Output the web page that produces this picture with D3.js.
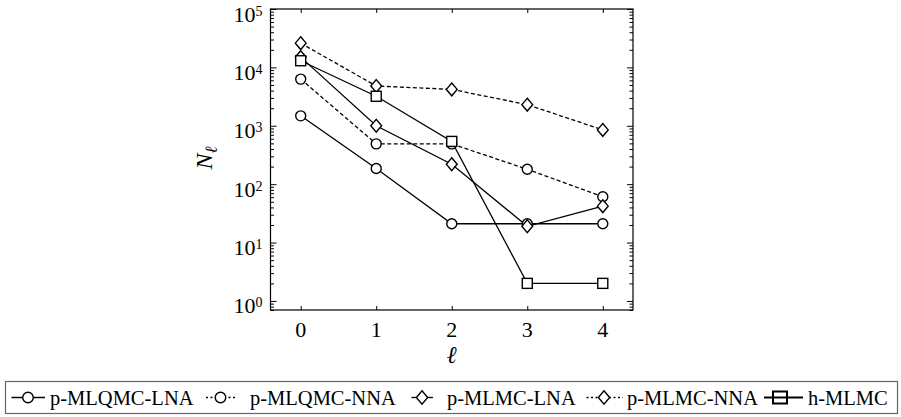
<!DOCTYPE html>
<html lang="en">
<head>
    <meta charset="UTF-8">
    <title>N_l per level</title>
    <script src="https://d3js.org/d3.v7.min.js"></script>
    <style>
        body {
            margin: 0;
            background: #ffffff;
        }
    </style>
</head>
<body>
<script>
    // levels and sample counts
    const levels = [0, 1, 2, 3, 4];
    const mlqmcLNA = [1480, 185, 21, 21, 21];
    const mlqmcNNA = [6300, 490, 490, 180, 61];
    const mlmcLNA = [15000, 1000, 220, 19, 42];
    const mlmcNNA = [26000, 4800, 4200, 2300, 850];
    const hMLMC = [13000, 3200, 540, 2, 2];

    const yMajor = [1, 10, 100, 1000, 10000, 100000];

    const series = [
        {name: "p-MLQMC-LNA", values: mlqmcLNA, marker: "circle", dash: null},
        {name: "p-MLQMC-NNA", values: mlqmcNNA, marker: "circle", dash: "4,2.5"},
        {name: "p-MLMC-LNA", values: mlmcLNA, marker: "diamond", dash: null},
        {name: "p-MLMC-NNA", values: mlmcNNA, marker: "diamond", dash: "4,2.5"},
        {name: "h-MLMC", values: hMLMC, marker: "square", dash: null}
    ];

    const serif = '"Liberation Serif"';
    const width = 901, height = 417;
    const plot = {left: 270.5, right: 633, top: 9, bottom: 310};

    const svg = d3.select("body").append("svg")
        .attr("width", width)
        .attr("height", height);

    const x = d3.scaleLinear().domain([-0.4, 4.4]).range([plot.left, plot.right]);
    const y = d3.scaleLog().domain([0.7, 1e5]).range([plot.bottom, plot.top]);

    // minor ticks for each decade
    const yMinor = [];
    [0.1, 1, 10, 100, 1000, 10000].forEach(d => {
        for (let k = 2; k <= 9; k++) {
            const v = d * k;
            if (v >= 0.7 && v < 1e5) yMinor.push(v);
        }
    });

    function tickAxis(axis, pos, size, values) {
        svg.append("g")
            .attr("transform", pos)
            .call(axis.tickValues(values).tickSize(size).tickFormat(""))
            .call(g => g.select(".domain").remove())
            .call(g => g.selectAll("line").attr("stroke", "#000").attr("stroke-width", 1));
    }

    tickAxis(d3.axisLeft(y), `translate(${plot.left},0)`, -6, yMajor);
    tickAxis(d3.axisLeft(y), `translate(${plot.left},0)`, -3.5, yMinor);
    tickAxis(d3.axisRight(y), `translate(${plot.right},0)`, -6, yMajor);
    tickAxis(d3.axisRight(y), `translate(${plot.right},0)`, -3.5, yMinor);
    tickAxis(d3.axisBottom(x), `translate(0,${plot.bottom})`, -4, levels);
    tickAxis(d3.axisTop(x), `translate(0,${plot.top})`, -4, levels);

    // frame
    svg.append("rect")
        .attr("x", plot.left).attr("y", plot.top)
        .attr("width", plot.right - plot.left)
        .attr("height", plot.bottom - plot.top)
        .attr("fill", "none")
        .attr("stroke", "#000")
        .attr("stroke-width", 1.2);

    // y tick labels 10^k
    const ylab = svg.append("g").attr("font-size", 22).attr("text-anchor", "end");
    yMajor.forEach(v => {
        const t = ylab.append("text")
            .style("font-family", serif)
            .attr("fill", "#000")
            .attr("x", plot.left - 8)
            .attr("y", y(v) + 12.5);
        t.append("tspan").text("10");
        t.append("tspan").attr("font-size", 14).attr("dy", -6).text(Math.round(Math.log10(v)));
    });

    // x tick labels
    svg.append("g").attr("font-size", 22).attr("text-anchor", "middle")
        .selectAll("text").data(levels).enter().append("text")
        .style("font-family", serif)
        .attr("fill", "#000")
        .attr("x", d => x(d))
        .attr("y", 337)
        .text(d => d);

    // axis titles
    svg.append("text")
        .style("font-family", serif)
        .attr("fill", "#000")
        .attr("x", x(2))
        .attr("y", 363)
        .attr("text-anchor", "middle")
        .attr("font-size", 24)
        .attr("font-style", "italic")
        .text("\u2113");

    const yt = svg.append("text")
        .style("font-family", serif)
        .attr("fill", "#000")
        .attr("transform", "translate(212,158) rotate(-90)")
        .attr("text-anchor", "middle")
        .attr("font-size", 24)
        .attr("font-style", "italic");
    yt.append("tspan").text("N");
    yt.append("tspan").attr("font-size", 17).attr("dy", 5).text("\u2113");

    function drawMarker(g, type, cx, cy, s) {
        if (type === "circle") {
            g.append("circle").attr("cx", cx).attr("cy", cy).attr("r", 5 * s);
        } else if (type === "diamond") {
            const w = 5.4 * s, h = 6.4 * s;
            g.append("path").attr("d", `M${cx},${cy - h}L${cx + w},${cy}L${cx},${cy + h}L${cx - w},${cy}Z`);
        } else {
            const a = 5 * s;
            g.append("rect").attr("x", cx - a).attr("y", cy - a).attr("width", 2 * a).attr("height", 2 * a);
        }
    }

    const line = d3.line().x((d, i) => x(levels[i])).y(d => y(d));

    const plotG = svg.append("g");
    series.forEach(s => {
        plotG.append("path")
            .datum(s.values)
            .attr("d", line)
            .attr("fill", "none")
            .attr("stroke", "#000")
            .attr("stroke-width", 1.3)
            .attr("stroke-dasharray", s.dash);
    });
    series.forEach(s => {
        const mg = plotG.append("g")
            .attr("fill", "#fff")
            .attr("stroke", "#000")
            .attr("stroke-width", 1.4);
        s.values.forEach((v, i) => drawMarker(mg, s.marker, x(levels[i]), y(v), 1));
    });

    // legend
    const legend = svg.append("g");
    legend.append("rect")
        .attr("x", 5.5).attr("y", 381.5)
        .attr("width", 892).attr("height", 32)
        .attr("fill", "#fff")
        .attr("stroke", "#666")
        .attr("stroke-width", 1.2);

    const legendPos = [
        {x0: 11.5, cx: 28, x1: 45, tx: 50},
        {x0: 206, cx: 220.5, x1: 236, tx: 250},
        {x0: 411.5, cx: 422, x1: 433, tx: 447},
        {x0: 586.5, cx: 604, x1: 623, tx: 627},
        {x0: 764, cx: 780, x1: 803, tx: 808}
    ];
    const ly = 397.5;
    series.forEach((s, i) => {
        const p = legendPos[i];
        const g = legend.append("g");
        g.append("line")
            .attr("x1", p.x0).attr("x2", p.x1)
            .attr("y1", ly).attr("y2", ly)
            .attr("stroke", "#000")
            .attr("stroke-width", s.marker === "square" ? 2 : 1.3)
            .attr("stroke-dasharray", s.dash ? "2,2.5" : null);
        const mg = g.append("g")
            .attr("fill", "#fff")
            .attr("stroke", "#000")
            .attr("stroke-width", s.marker === "square" ? 2 : 1.4);
        if (s.marker === "square") {
            mg.append("rect").attr("x", p.cx - 7).attr("y", ly - 6).attr("width", 14).attr("height", 12);
            g.append("line")
                .attr("x1", p.cx - 7).attr("x2", p.cx + 7)
                .attr("y1", ly).attr("y2", ly)
                .attr("stroke", "#000").attr("stroke-width", 2);
        } else {
            drawMarker(mg, s.marker, p.cx, ly, 1.05);
        }
        g.append("text")
            .style("font-family", serif)
            .attr("fill", "#000")
            .attr("x", p.tx)
            .attr("y", 405)
            .attr("font-size", 20.5)
            .text(s.name);
    });
</script>
</body>
</html>
